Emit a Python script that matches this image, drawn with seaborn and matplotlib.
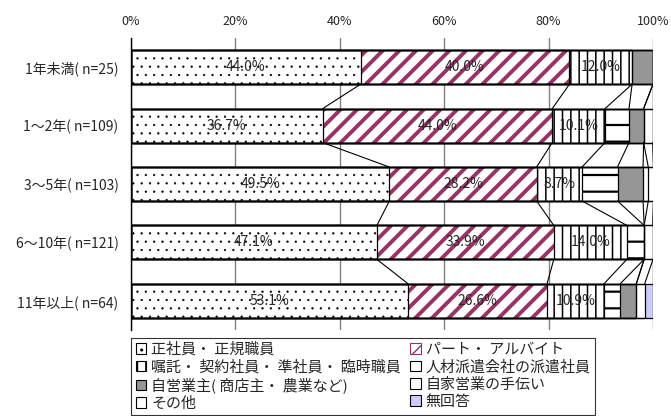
import matplotlib.pyplot as plt
import matplotlib.patches as mpatches
import numpy as np
import pandas as pd
import seaborn as sns

groups = ["1年未満( n=25)", "1～2年( n=109)", "3～5年( n=103)", "6～10年( n=121)", "11年以上( n=64)"]

series_names = ["正社員・ 正規職員", "パート・ アルバイト", "嘱託・ 契約社員・ 準社員・ 臨時職員",
                "人材派遣会社の派遣社員", "自営業主( 商店主・ 農業など)", "自家営業の手伝い",
                "その他", "無回答"]

seishain = [44.0, 36.7, 49.5, 47.1, 53.1]
part = [40.0, 44.0, 28.2, 33.9, 26.6]
shokutaku = [12.0, 10.1, 8.7, 14.0, 10.9]
haken = [0.0, 4.6, 6.8, 3.3, 3.1]
jiei = [4.0, 2.8, 4.9, 0.0, 3.1]
kazoku = [0.0, 0.0, 1.0, 0.0, 0.0]
sonota = [0.0, 1.8, 1.0, 1.7, 1.6]
mukaitou = [0.0, 0.0, 0.0, 0.0, 1.6]

xticks = [0, 20, 40, 60, 80, 100]

values = [seishain, part, shokutaku, haken, jiei, kazoku, sonota, mukaitou]

# style per series: facecolor, hatch colour, hatch
styles = [
    ("white", "black", ".."),
    ("white", "#993366", "//"),
    ("white", "black", "||"),
    ("white", "black", "-"),
    ("#969696", "black", None),
    ("white", "black", None),
    ("white", "black", None),
    ("#CCCCFF", "black", None),
]
hatch_lw = [0.4, 2.8, 1.1, 1.6, 1, 1, 1, 1]

sns.set_style("white")
plt.rcParams["font.family"] = ["Noto Sans CJK JP", "DejaVu Sans"]

fig = plt.figure(figsize=(6.71, 4.16), dpi=100)
ax = fig.add_axes([131 / 671, 1 - 330 / 416, 522 / 671, 292 / 416])

df = pd.DataFrame(np.array(values).T, columns=series_names)
df["group"] = groups
cum = df[series_names].cumsum(axis=1)
bar_w = 0.58

# stacked bars: draw cumulative totals from longest to shortest
for i in range(len(series_names) - 1, -1, -1):
    face, hcol, hatch = styles[i]
    n_before = len(ax.patches)
    sns.barplot(x=cum[series_names[i]], y=df["group"], order=groups, orient="h",
                width=bar_w, color=face, facecolor=face, edgecolor=hcol,
                linewidth=0, hatch=hatch, ax=ax, zorder=2)
    for p in ax.patches[n_before:]:
        if hasattr(p, "set_hatch_linewidth"):
            p.set_hatch_linewidth(hatch_lw[i])

# black outlines of every segment
for name in series_names:
    sns.barplot(x=cum[name], y=df["group"], order=groups, orient="h", width=bar_w,
                fill=False, edgecolor="black", linewidth=0.9, ax=ax, zorder=3)

# series lines between bars
for k in range(len(groups) - 1):
    for name in series_names:
        ax.plot([cum[name][k], cum[name][k + 1]], [k + bar_w / 2, k + 1 - bar_w / 2],
                color="black", lw=0.8, zorder=3)

# percentage labels for first three series
for k in range(len(groups)):
    for i in range(3):
        v = values[i][k]
        ax.text(cum[series_names[i]][k] - v / 2, k, f"{v:.1f}%", ha="center",
                va="center", fontsize=10, zorder=4)

ax.set_xlim(0, 100)
ax.set_ylim(len(groups) - 0.5, -0.5)
ax.set_xticks(xticks)
ax.set_xticklabels([f"{t}%" for t in xticks], fontsize=9)
ax.xaxis.tick_top()
ax.tick_params(axis="x", length=0, pad=7)
ax.tick_params(axis="y", which="major", length=0, labelsize=10, pad=9)
ax.set_yticks(np.arange(-0.5, len(groups)), minor=True)
ax.tick_params(axis="y", which="minor", direction="in", length=6, color="black", width=0.9)
ax.set_xlabel("")
ax.set_ylabel("")
ax.grid(axis="x", color="#808080", lw=1, zorder=0)
ax.set_axisbelow(True)
for side in ["top", "right", "bottom"]:
    ax.spines[side].set_visible(False)
ax.spines["left"].set_color("black")
ax.spines["left"].set_linewidth(1)

handles = []
for i, (face, hcol, hatch) in enumerate(styles):
    handles.append(mpatches.Patch(facecolor=face, edgecolor=hcol if i == 1 else "black",
                                  hatch=hatch, linewidth=0.8, label=series_names[i]))
order = [0, 2, 4, 6, 1, 3, 5, 7]
leg = fig.legend([handles[j] for j in order], [series_names[j] for j in order],
                 loc="upper left", bbox_to_anchor=(131 / 671, 1 - 338 / 416),
                 ncol=2, fontsize=10.8, frameon=True, fancybox=False,
                 handlelength=0.7, handleheight=0.7, handletextpad=0.35,
                 columnspacing=0.6, labelspacing=0.2, borderpad=0.3,
                 borderaxespad=0)
leg.get_frame().set_edgecolor("black")
leg.get_frame().set_linewidth(0.8)

fig.savefig("out.png", dpi=100)
